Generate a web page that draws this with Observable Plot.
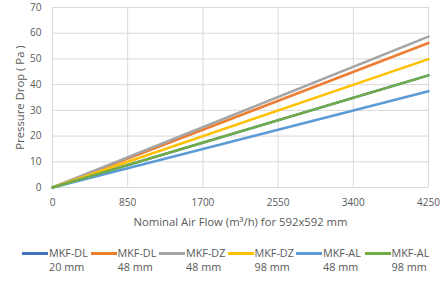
<!DOCTYPE html>
<html><head><meta charset="utf-8">
<script src="https://cdn.jsdelivr.net/npm/d3@7"></script>
<script src="https://cdn.jsdelivr.net/npm/@observablehq/plot@0.6"></script>
<style>
body{margin:0;background:#fff;font-family:"Open Sans",sans-serif;}
#legend{display:flex;justify-content:flex-start;gap:0;width:445px;padding-left:22px;box-sizing:border-box;margin-top:14px;font-size:10.8px;color:#595959;}
.item{display:flex;align-items:flex-start;width:68.5px;flex:none;}
.sw{width:26px;height:3px;margin-top:6px;flex:none;margin-right:1px;}
.lab{line-height:14px;white-space:nowrap;}
</style></head>
<body><div id="chart"></div><div id="legend"></div>
<script>
const seriesNames = ["MKF-DL 20 mm","MKF-DL 48 mm","MKF-DZ 48 mm","MKF-DZ 98 mm","MKF-AL 48 mm","MKF-AL 98 mm"];
const seriesColors = ["#4472C4","#ED7D31","#A5A5A5","#FFC000","#5B9BD5","#70AD47"];
const flows = [0, 4250];
const dl20 = [0, 43.6];
const dl48 = [0, 56.2];
const dz48 = [0, 58.7];
const dz98 = [0, 49.9];
const al48 = [0, 37.4];
const al98 = [0, 43.6];
const xTicks = [0, 850, 1700, 2550, 3400, 4250];
const yTicks = [0, 10, 20, 30, 40, 50, 60, 70];

const all = [dl20, dl48, dz48, dz98, al48, al98];
const data = [];
all.forEach((vals, i) => flows.forEach((f, j) => data.push({series: seriesNames[i], x: f, y: vals[j]})));

const chart = Plot.plot({
  width: 445, height: 232,
  marginTop: 7, marginBottom: 45, marginLeft: 52, marginRight: 17,
  style: {fontFamily: "'Open Sans', sans-serif", fontSize: "10px", color: "#595959"},
  x: {domain: [0, 4250]},
  y: {domain: [0, 70]},
  color: {domain: seriesNames, range: seriesColors},
  marks: [
    Plot.gridX(xTicks, {stroke: "#D9D9D9", strokeOpacity: 1}),
    Plot.gridY(yTicks, {stroke: "#D9D9D9", strokeOpacity: 1}),
    Plot.axisX(xTicks, {tickSize: 0, tickPadding: 11, tickFormat: d3.format("d"), label: null, fill: "#595959"}),
    Plot.axisY(yTicks, {tickSize: 0, tickPadding: 11, label: null, fill: "#595959"}),
    Plot.axisX({label: "Nominal Air Flow (m³/h) for 592x592 mm", labelAnchor: "center", labelArrow: "none", labelOffset: 38, tickSize: 0, tickFormat: () => "", fontSize: 11.3, fill: "#595959"}),
    Plot.axisY({label: "Pressure Drop ( Pa )", labelAnchor: "center", labelArrow: "none", labelOffset: 37, tickSize: 0, tickFormat: () => "", fontSize: 11.3, fill: "#595959"}),
    Plot.line(data, {x: "x", y: "y", z: "series", stroke: "series", strokeWidth: 2.5})
  ]
});
document.getElementById("chart").appendChild(chart);

const leg = document.getElementById("legend");
seriesNames.forEach((n, i) => {
  const parts = n.split(" ");
  const it = document.createElement("div"); it.className = "item";
  it.innerHTML = `<div class="sw" style="background:${seriesColors[i]}"></div><div class="lab">${parts[0]}<br>${parts[1]} ${parts[2]}</div>`;
  leg.appendChild(it);
});
</script></body></html>
